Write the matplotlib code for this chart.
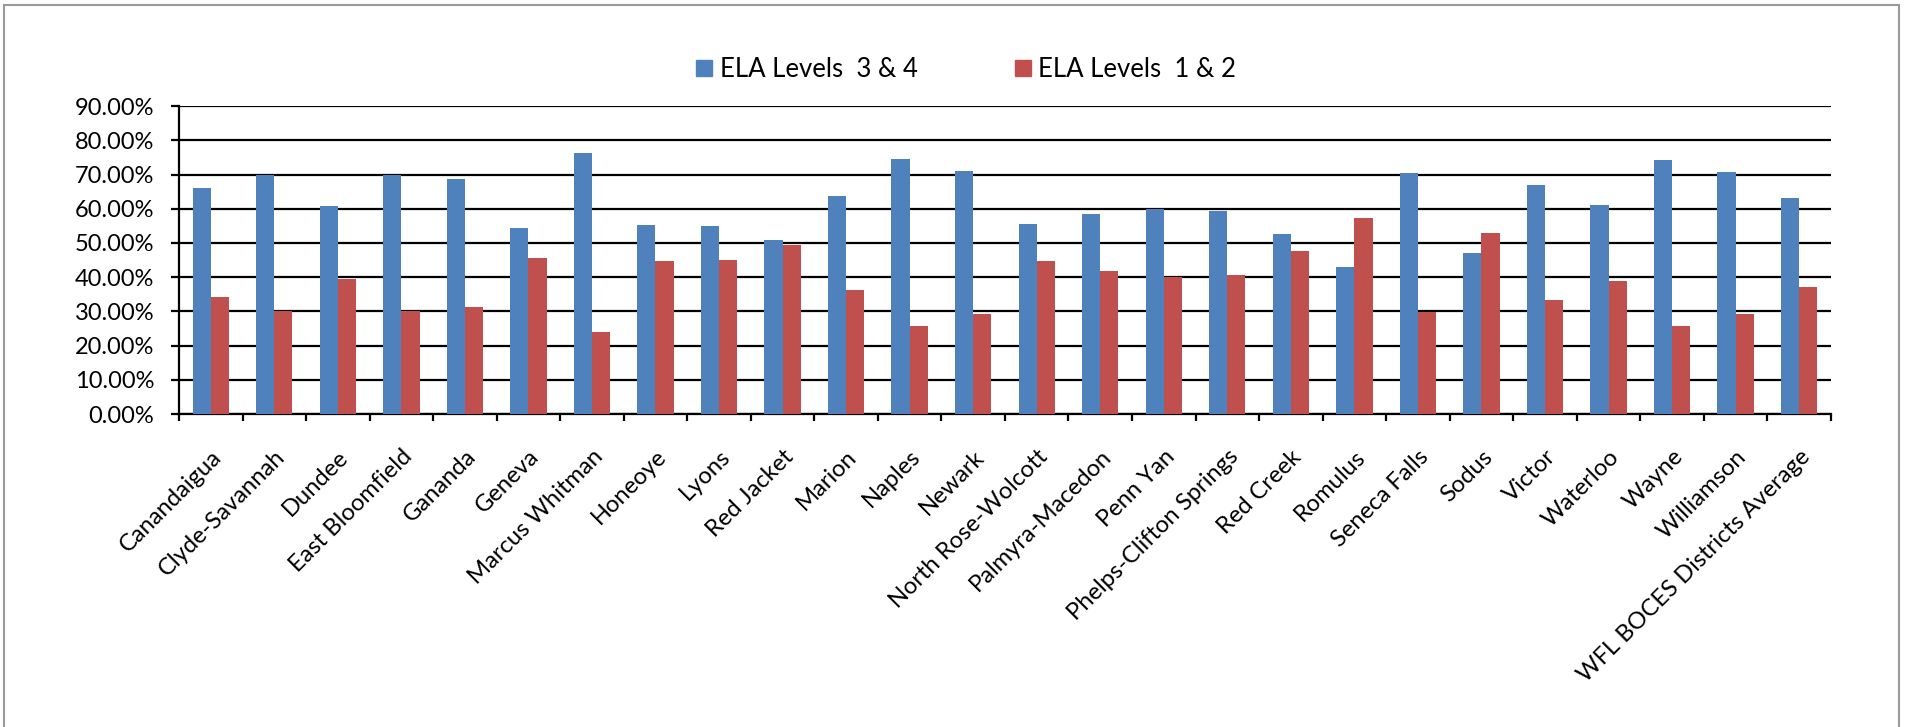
import numpy as np
import matplotlib
matplotlib.use('Agg')
import matplotlib.pyplot as plt
from matplotlib.patches import Patch, Rectangle

# Districts (x categories)
districts = ['Canandaigua', 'Clyde-Savannah', 'Dundee', 'East Bloomfield', 'Gananda',
             'Geneva', 'Marcus Whitman', 'Honeoye', 'Lyons', 'Red Jacket', 'Marion',
             'Naples', 'Newark', 'North Rose-Wolcott', 'Palmyra-Macedon', 'Penn Yan',
             'Phelps-Clifton Springs', 'Red Creek', 'Romulus', 'Seneca Falls', 'Sodus',
             'Victor', 'Waterloo', 'Wayne', 'Williamson', 'WFL BOCES Districts Average']

# percent of students per level group
levels_3_4 = [66.1, 69.9, 60.8, 69.9, 68.7, 54.4, 76.3, 55.2, 54.9, 50.8, 63.7, 74.6, 71.1,
              55.5, 58.5, 59.9, 59.3, 52.6, 42.9, 70.5, 47.0, 67.0, 61.1, 74.3, 70.8, 63.1]
levels_1_2 = [34.1, 30.2, 39.4, 30.1, 31.2, 45.6, 23.9, 44.7, 45.0, 49.4, 36.2, 25.6, 29.1,
              44.7, 41.7, 40.0, 40.6, 47.6, 57.3, 29.7, 52.9, 33.2, 38.8, 25.6, 29.1, 37.0]

series_names = ['ELA Levels  3 & 4', 'ELA Levels  1 & 2']
colors = ['#4F81BD', '#C0504D']
y_ticks = [0, 10, 20, 30, 40, 50, 60, 70, 80, 90]

plt.rcParams['font.family'] = ['Lato', 'DejaVu Sans']

fig = plt.figure(figsize=(19.06, 7.27), dpi=100)
renderer = fig.canvas.get_renderer()


def size_for_width(s, width_px):
    # font size that gives the text about the width seen in the original
    t = fig.text(0, 0, s, fontsize=10)
    w = t.get_window_extent(renderer).width
    t.remove()
    return 10 * width_px / w


ytick_size = size_for_width('90.00%', 79)
xtick_size = size_for_width(districts[-1], 318)
legend_size = size_for_width(series_names[0], 196)

ax = fig.add_axes([0.0939, 0.4305, 0.9606 - 0.0939, 0.854 - 0.4305])

x = np.arange(len(districts))
w = 1 / 3.5  # excel gap width 150%
ax.bar(x - w / 2, levels_3_4, w, color=colors[0], zorder=3)
ax.bar(x + w / 2, levels_1_2, w, color=colors[1], zorder=3)

ax.set_xlim(-0.5, len(districts) - 0.5)
ax.set_ylim(0, 90)
ax.set_yticks(y_ticks)
ax.set_yticklabels(['{:.2f}%'.format(v) for v in y_ticks], fontsize=ytick_size)
ax.yaxis.grid(True, color='black', lw=1.6, zorder=1)
ax.tick_params(axis='y', length=5.8, width=1.6, pad=12)

# ticks at category boundaries, labels at centres
ax.set_xticks(np.arange(len(districts) + 1) - 0.5)
ax.set_xticklabels([])
ax.tick_params(axis='x', which='major', length=5, width=1.6, direction='out')
ax.set_xticks(x, minor=True)
ax.set_xticklabels(districts, minor=True, rotation=45, ha='right', va='top',
                   rotation_mode='anchor', fontsize=xtick_size)
ax.tick_params(axis='x', which='minor', length=0, pad=23)

for side in ['top', 'right']:
    ax.spines[side].set_visible(False)
ax.spines['left'].set_linewidth(1.6)
ax.spines['bottom'].set_linewidth(1.6)
ax.set_axisbelow(True)

handles = [Patch(color=c, label=n) for c, n in zip(colors, series_names)]
fig.legend(handles=handles, loc='center', bbox_to_anchor=(0.507, 0.904), ncol=2,
           frameon=False, fontsize=legend_size, handlelength=0.6, handleheight=0.6,
           handletextpad=0.3, columnspacing=3.8)

# chart frame
fig.patches.append(Rectangle((4 / 1906, -0.1), 1895 / 1906, 1.1 - 5 / 727,
                             transform=fig.transFigure, fill=False,
                             edgecolor='#9a9a9a', lw=1.5))

fig.savefig('out.png', dpi=100)
